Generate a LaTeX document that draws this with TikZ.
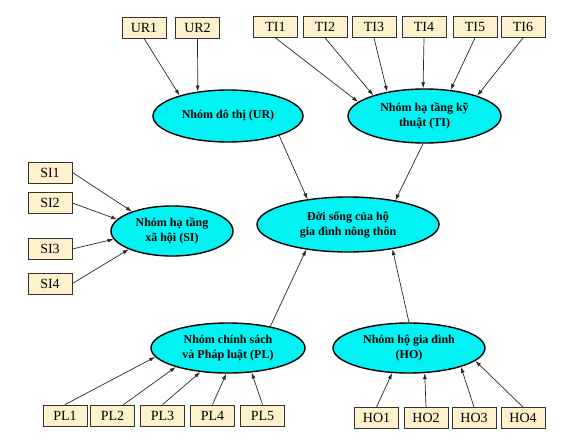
\documentclass[tikz,border=0pt]{standalone}
\usepackage{fontspec}
\setmainfont{Liberation Serif}
\usetikzlibrary{shapes.geometric,arrows.meta,calc}
\definecolor{boxfill}{RGB}{255,241,204}
\definecolor{ellfill}{RGB}{0,242,242}
\definecolor{arrowcol}{RGB}{40,40,40}
\begin{document}
\begin{tikzpicture}[x=1pt,y=-1pt,
  itembox/.style={draw=black!80,fill=boxfill,line width=0.8pt,minimum width=44pt,minimum height=21pt,inner sep=0pt,font=\fontsize{14}{16}\selectfont},
  factor/.style={ellipse,draw=black,fill=ellfill,line width=1.4pt,inner sep=0pt,align=center,font=\bfseries\fontsize{12}{15}\selectfont},
  link/.style={draw=arrowcol,line width=0.7pt,-{Latex[length=6pt,width=4pt]}}]
\useasboundingbox (0,0) rectangle (572,447);
% factors
\node[factor,minimum width=150pt,minimum height=52pt] (ur) at (228,116) {Nhóm đô thị (UR)};
\node[factor,minimum width=153pt,minimum height=54pt] (ti) at (424.5,116) {Nhóm hạ tầng kỹ\\thuật (TI)};
\node[factor,minimum width=122pt,minimum height=50pt] (si) at (172,231) {Nhóm hạ tầng\\xã hội (SI)};
\node[factor,minimum width=182pt,minimum height=55pt] (c) at (348,224.5) {Đời sống của hộ\\gia đình nông thôn};
\node[factor,minimum width=154pt,minimum height=50pt] (pl) at (228,348) {Nhóm chính sách\\và Pháp luật (PL)};
\node[factor,minimum width=152pt,minimum height=50pt] (ho) at (409,348) {Nhóm hộ gia đình\\(HO)};
% boxes
\node[itembox] (ur1) at (144,27.5) {UR1};
\node[itembox] (ur2) at (197.5,27.5) {UR2};
\node[itembox] (ti1) at (275.5,27) {TI1};
\node[itembox] (ti2) at (325,27) {TI2};
\node[itembox] (ti3) at (374,27) {TI3};
\node[itembox] (ti4) at (424,27) {TI4};
\node[itembox] (ti5) at (475,27) {TI5};
\node[itembox] (ti6) at (523,27) {TI6};
\node[itembox] (si1) at (50,172.5) {SI1};
\node[itembox] (si2) at (50,203) {SI2};
\node[itembox] (si3) at (50,249) {SI3};
\node[itembox] (si4) at (50,283.5) {SI4};
\node[itembox] (pl1) at (65,415.5) {PL1};
\node[itembox] (pl2) at (112.5,415.5) {PL2};
\node[itembox] (pl3) at (162.5,415.5) {PL3};
\node[itembox] (pl4) at (212.5,415.5) {PL4};
\node[itembox] (pl5) at (262.5,415.5) {PL5};
\node[itembox] (ho1) at (376.5,418) {HO1};
\node[itembox] (ho2) at (426,418) {HO2};
\node[itembox] (ho3) at (474,418) {HO3};
\node[itembox] (ho4) at (523,418) {HO4};
% connectors
\draw[link] (ur1.south) -- (ur.157);
\draw[link] (ur2.south) -- (ur.141);
\draw[link] (ti1.south) -- (ti.168.6);
\draw[link] (ti2.south) -- (ti.158);
\draw[link] (ti3.south) -- (ti.147.7);
\draw[link] (ti4.south) -- (ti.93);
\draw[link] (ti5.south) -- (ti.45.6);
\draw[link] (ti6.south) -- (ti.21.3);
\draw[link] (si1.east) -- (si.154.5);
\draw[link] (si2.east) -- (si.168.5);
\draw[link] (si3.east) -- (si.188.4);
\draw[link] (si4.east) -- (si.203);
\draw[link] (pl1.north) -- (pl.187.8);
\draw[link] ($(pl2.north)+(11,0)$) -- (pl.200);
\draw[link] (pl3.north) -- (pl.221);
\draw[link] (pl4.north) -- (pl.266);
\draw[link] (pl5.north) -- (pl.314);
\draw[link] (ho1.north) -- (ho.236);
\draw[link] (ho2.north) -- (ho.302);
\draw[link] (ho3.north) -- (ho.340);
\draw[link] (ho4.north) -- (ho.349);
\draw[link] (ur.339.8) -- (c.148.6);
\draw[link] (ti.267) -- (c.27.5);
\draw[link] (pl.27) -- (c.211.4);
\draw[link] (ho.90) -- (c.331);
\end{tikzpicture}
\end{document}
